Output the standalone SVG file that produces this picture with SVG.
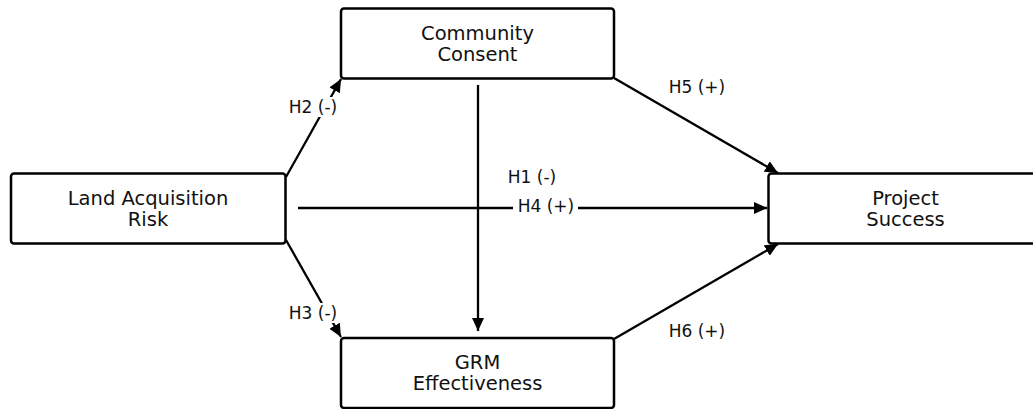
<svg xmlns="http://www.w3.org/2000/svg" width="1033" height="409" viewBox="0 0 1033 409">
<defs>
<style>
.box{fill:#fff;stroke:#000;stroke-width:2.5}
.nt{font-family:"DejaVu Sans",sans-serif;font-size:19.5px;fill:#111;text-anchor:middle}
.lt{font-family:"DejaVu Sans",sans-serif;font-size:17px;fill:#111;text-anchor:middle}
.ed{stroke:#000;stroke-width:2.3;fill:none;marker-end:url(#ah)}
.bg{fill:#fff}
</style>
<marker id="ah" markerUnits="userSpaceOnUse" markerWidth="16" markerHeight="14" refX="13" refY="6" orient="auto">
<path d="M0,0 L13,6 L0,12 z" fill="#000"/>
</marker>
</defs>
<rect width="1033" height="409" fill="#fff"/>
<g id="connectors">
<line class="ed" x1="286" y1="177" x2="341" y2="79"/>
<line class="ed" x1="286" y1="240" x2="341" y2="337"/>
<line class="ed" x1="298" y1="208" x2="767" y2="208"/>
<line class="ed" x1="478" y1="85" x2="478" y2="331"/>
<line class="ed" x1="614" y1="78" x2="778" y2="173"/>
<line class="ed" x1="614" y1="339" x2="778" y2="244"/>
<rect class="bg" x="513" y="198" width="65" height="20"/>
<rect class="bg" x="285" y="97" width="56" height="20"/>
<rect class="bg" x="285" y="303" width="56" height="20"/>
<text class="lt" x="313" y="112.5">H2 (-)</text>
<text class="lt" x="313" y="319">H3 (-)</text>
<text class="lt" x="546" y="211.5">H4 (+)</text>
<text class="lt" x="532" y="182.5">H1 (-)</text>
<text class="lt" x="697" y="93">H5 (+)</text>
<text class="lt" x="697" y="336.5">H6 (+)</text>
</g>
<g id="land">
<rect class="box" x="11" y="173.5" width="274.5" height="70" rx="3"/>
<text class="nt" x="148" y="205">Land Acquisition</text>
<text class="nt" x="148" y="226">Risk</text>
</g>
<g id="community">
<rect class="box" x="341" y="8.5" width="273" height="70" rx="3"/>
<text class="nt" x="477.5" y="39.5">Community</text>
<text class="nt" x="477.5" y="60.5">Consent</text>
</g>
<g id="grm">
<rect class="box" x="341" y="338" width="273" height="70" rx="3"/>
<text class="nt" x="477.5" y="369">GRM</text>
<text class="nt" x="477.5" y="390">Effectiveness</text>
</g>
<g id="project">
<rect class="box" x="768.5" y="173.5" width="274.5" height="70" rx="3"/>
<text class="nt" x="905.5" y="205">Project</text>
<text class="nt" x="905.5" y="226">Success</text>
</g>
</svg>
